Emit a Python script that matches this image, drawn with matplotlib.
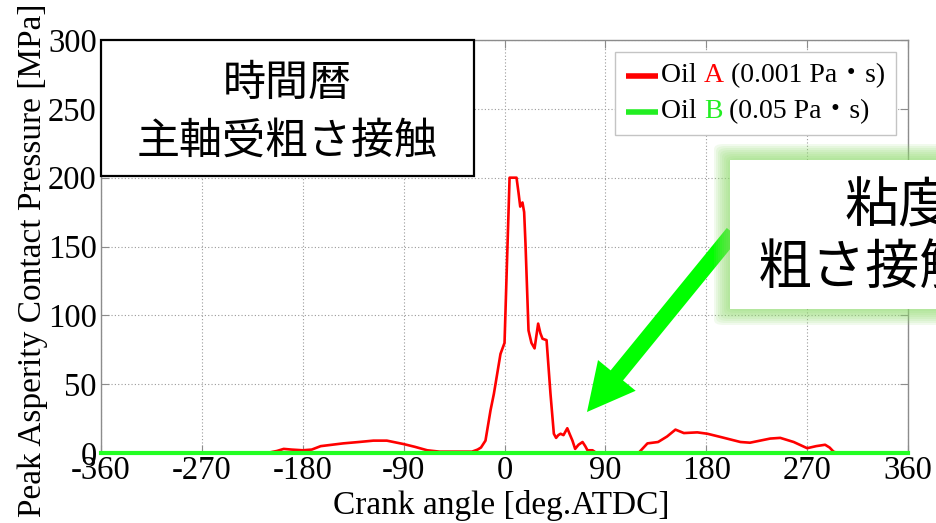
import matplotlib
matplotlib.use("Agg")
import matplotlib.pyplot as plt
from matplotlib.patches import Rectangle, FancyBboxPatch
from matplotlib.offsetbox import AnchoredOffsetbox, HPacker, VPacker, TextArea, DrawingArea
from matplotlib.lines import Line2D

plt.rcParams['axes.unicode_minus'] = False

SERIF = ['Liberation Serif', 'Noto Sans CJK JP']
CJK = ['Noto Sans CJK JP', 'DejaVu Sans']

# Oil A (0.001 Pa・s), peak asperity contact pressure vs crank angle
angle_a = [-360, -340, -336, -320, -316, -215, -209, -203, -197, -190, -180, -172,
           -164, -154, -144, -130, -117, -105, -99, -90, -80, -69, -58, -48, -29,
           -24, -21, -17, -12.5, -9.5, -3.6, 0, 1.5, 2.7, 4.5, 10.7, 12.5, 14, 16,
           17.5, 18.7, 21.4, 24, 26.8, 30, 32, 33.9, 37.5, 41, 44, 46, 48, 50,
           52.6, 56, 58, 60.6, 63, 66, 69.6, 72, 74, 78.5, 82, 119.5, 127.5, 137,
           145, 152.5, 160, 172, 181, 193, 210.5, 219, 228, 237, 246, 258, 270,
           278, 286, 290, 293.5, 297, 360]
pressure_a = [0, 0, 0.5, 0.5, 0, 0, 0.5, 1.5, 3, 2.5, 2, 2.5,
              5, 6, 7, 8, 9, 9, 8, 6.5, 4.5, 2, 1, 1, 1,
              2.5, 4, 9, 31, 43, 72, 80, 120, 152, 200, 200, 189, 179, 182,
              175, 152, 89, 80, 76, 94, 87, 83, 82, 43, 14, 11, 13, 14,
              13, 18, 14, 9, 3, 6, 8, 5, 2, 2, 0, 0, 7, 8,
              12, 17, 14.5, 15, 14, 11.6, 8, 7.5, 9, 10.5, 11, 8, 3.5,
              5, 6, 4, 1, 0, 0]

# Oil B (0.05 Pa・s)
angle_b = [-360, 360]
pressure_b = [0, 0]

x_ticks = [-360, -270, -180, -90, 0, 90, 180, 270, 360]
y_ticks = [0, 50, 100, 150, 200, 250, 300]

fig = plt.figure(figsize=(9.37, 5.23), dpi=100)
ax = fig.add_axes([0.1078, 0.1338, 0.8613, 0.7897])

ax.plot(angle_a, pressure_a, color='#ff0000', lw=1.9, zorder=3)
ax.plot(angle_b, pressure_b, color='#22ff22', lw=3, zorder=4, clip_on=False)

ax.set_xlim(-360, 360)
ax.set_ylim(0, 300)
ax.set_xticks(x_ticks)
ax.set_yticks(y_ticks)
ax.grid(True, linestyle=(0, (1, 2)), color='#9a9a9a', lw=0.8)
ax.set_axisbelow(True)
for s in ax.spines.values():
    s.set_color('#8c8c8c')
    s.set_linewidth(1.0)
ax.tick_params(direction='in', top=True, right=True, length=6, color='#8c8c8c',
               labelcolor='black')
ax.tick_params(axis='y', pad=3)
ax.tick_params(axis='x', pad=2)
for lab in ax.get_xticklabels() + ax.get_yticklabels():
    lab.set_fontfamily(SERIF)
    lab.set_fontsize(23.5)

ax.set_xlabel('Crank angle [deg.ATDC]', fontfamily=SERIF, fontsize=24)
ax.set_ylabel('Peak Asperity Contact Pressure [MPa]', fontfamily=SERIF, fontsize=24)
ax.xaxis.set_label_coords(0.496, -0.09)
ax.yaxis.set_label_coords(-0.066, 0.467)

# legend with coloured letters
def legend_row(color, letter, rest):
    da = DrawingArea(23, 10, 0, 0)
    da.add_artist(Line2D([0, 23], [5, 5], color=color, lw=4, solid_capstyle='butt'))
    tp = dict(fontfamily=SERIF, fontsize=20)
    txt = HPacker(children=[TextArea('Oil ', textprops=dict(color='black', **tp)),
                            TextArea(letter, textprops=dict(color=color, **tp)),
                            TextArea(rest, textprops=dict(color='black', **tp))],
                  align='baseline', pad=0, sep=0)
    return HPacker(children=[da, txt], align='center', pad=0, sep=2)

rows = VPacker(children=[legend_row('#ff0000', 'A', ' (0.001 Pa・s)'),
                         legend_row('#22ee22', 'B', ' (0.05 Pa・s)')],
               align='left', pad=0, sep=8)
leg = AnchoredOffsetbox(loc='upper right', child=rows, pad=0.8, borderpad=0,
                        frameon=True, bbox_to_anchor=(0.985, 0.971),
                        bbox_transform=ax.transAxes)
leg.patch.set_edgecolor('#c4c4c4')
leg.patch.set_linewidth(1.0)
leg.patch.set_boxstyle('square', pad=0)
leg.zorder = 6
ax.add_artist(leg)

# title box inside the axes
ax.add_patch(Rectangle((0, 0.6707), 0.462, 0.3293, transform=ax.transAxes,
                       facecolor='white', edgecolor='black', lw=1.6, zorder=5,
                       clip_on=False))
ax.text(0.231, 0.893, '時間暦', transform=ax.transAxes, ha='center', va='center',
        fontfamily=CJK, fontsize=31, zorder=6)
ax.text(0.231, 0.753, '主軸受粗さ接触', transform=ax.transAxes, ha='center',
        va='center', fontfamily=CJK, fontsize=31, zorder=6)

# glowing callout box at the right edge (figure pixels)
W, H = 937.0, 523.0
bx0, bx1, by_top, by_bot = 730, 1000, 160, 309
for i in range(8):
    p = 16 - 2 * i
    fig.patches.append(FancyBboxPatch(
        ((bx0 - p) / W, 1 - (by_bot + p) / H), (bx1 - bx0 + 2 * p) / W,
        (by_bot - by_top + 2 * p) / H, boxstyle='round,pad=0,rounding_size=0.01',
        transform=fig.transFigure, facecolor='#8fdc6c', edgecolor='none',
        alpha=0.12, zorder=2))
fig.patches.append(Rectangle((bx0 / W, 1 - by_bot / H), (bx1 - bx0) / W,
                             (by_bot - by_top) / H, transform=fig.transFigure,
                             facecolor='white', edgecolor='none', zorder=3))
fig.text(845 / W, 1 - 207 / H, '粘度', ha='left', va='center',
         fontfamily=CJK, fontsize=39, zorder=4)
fig.text(758 / W, 1 - 268 / H, '粗さ接触', ha='left', va='center',
         fontfamily=CJK, fontsize=39, zorder=4)

# green arrow
arr = ax.annotate('', xy=(587, H - 412), xycoords='figure pixels',
                  xytext=(733, H - 233), textcoords='figure pixels',
                  arrowprops=dict(arrowstyle='simple,head_length=3.4,head_width=3.5,tail_width=1.15',
                                  mutation_scale=10, color='#00ff00', lw=0,
                                  shrinkA=0, shrinkB=0),
                  annotation_clip=False, zorder=7)
arr.set_zorder(7)

fig.savefig('out.png', dpi=100)
